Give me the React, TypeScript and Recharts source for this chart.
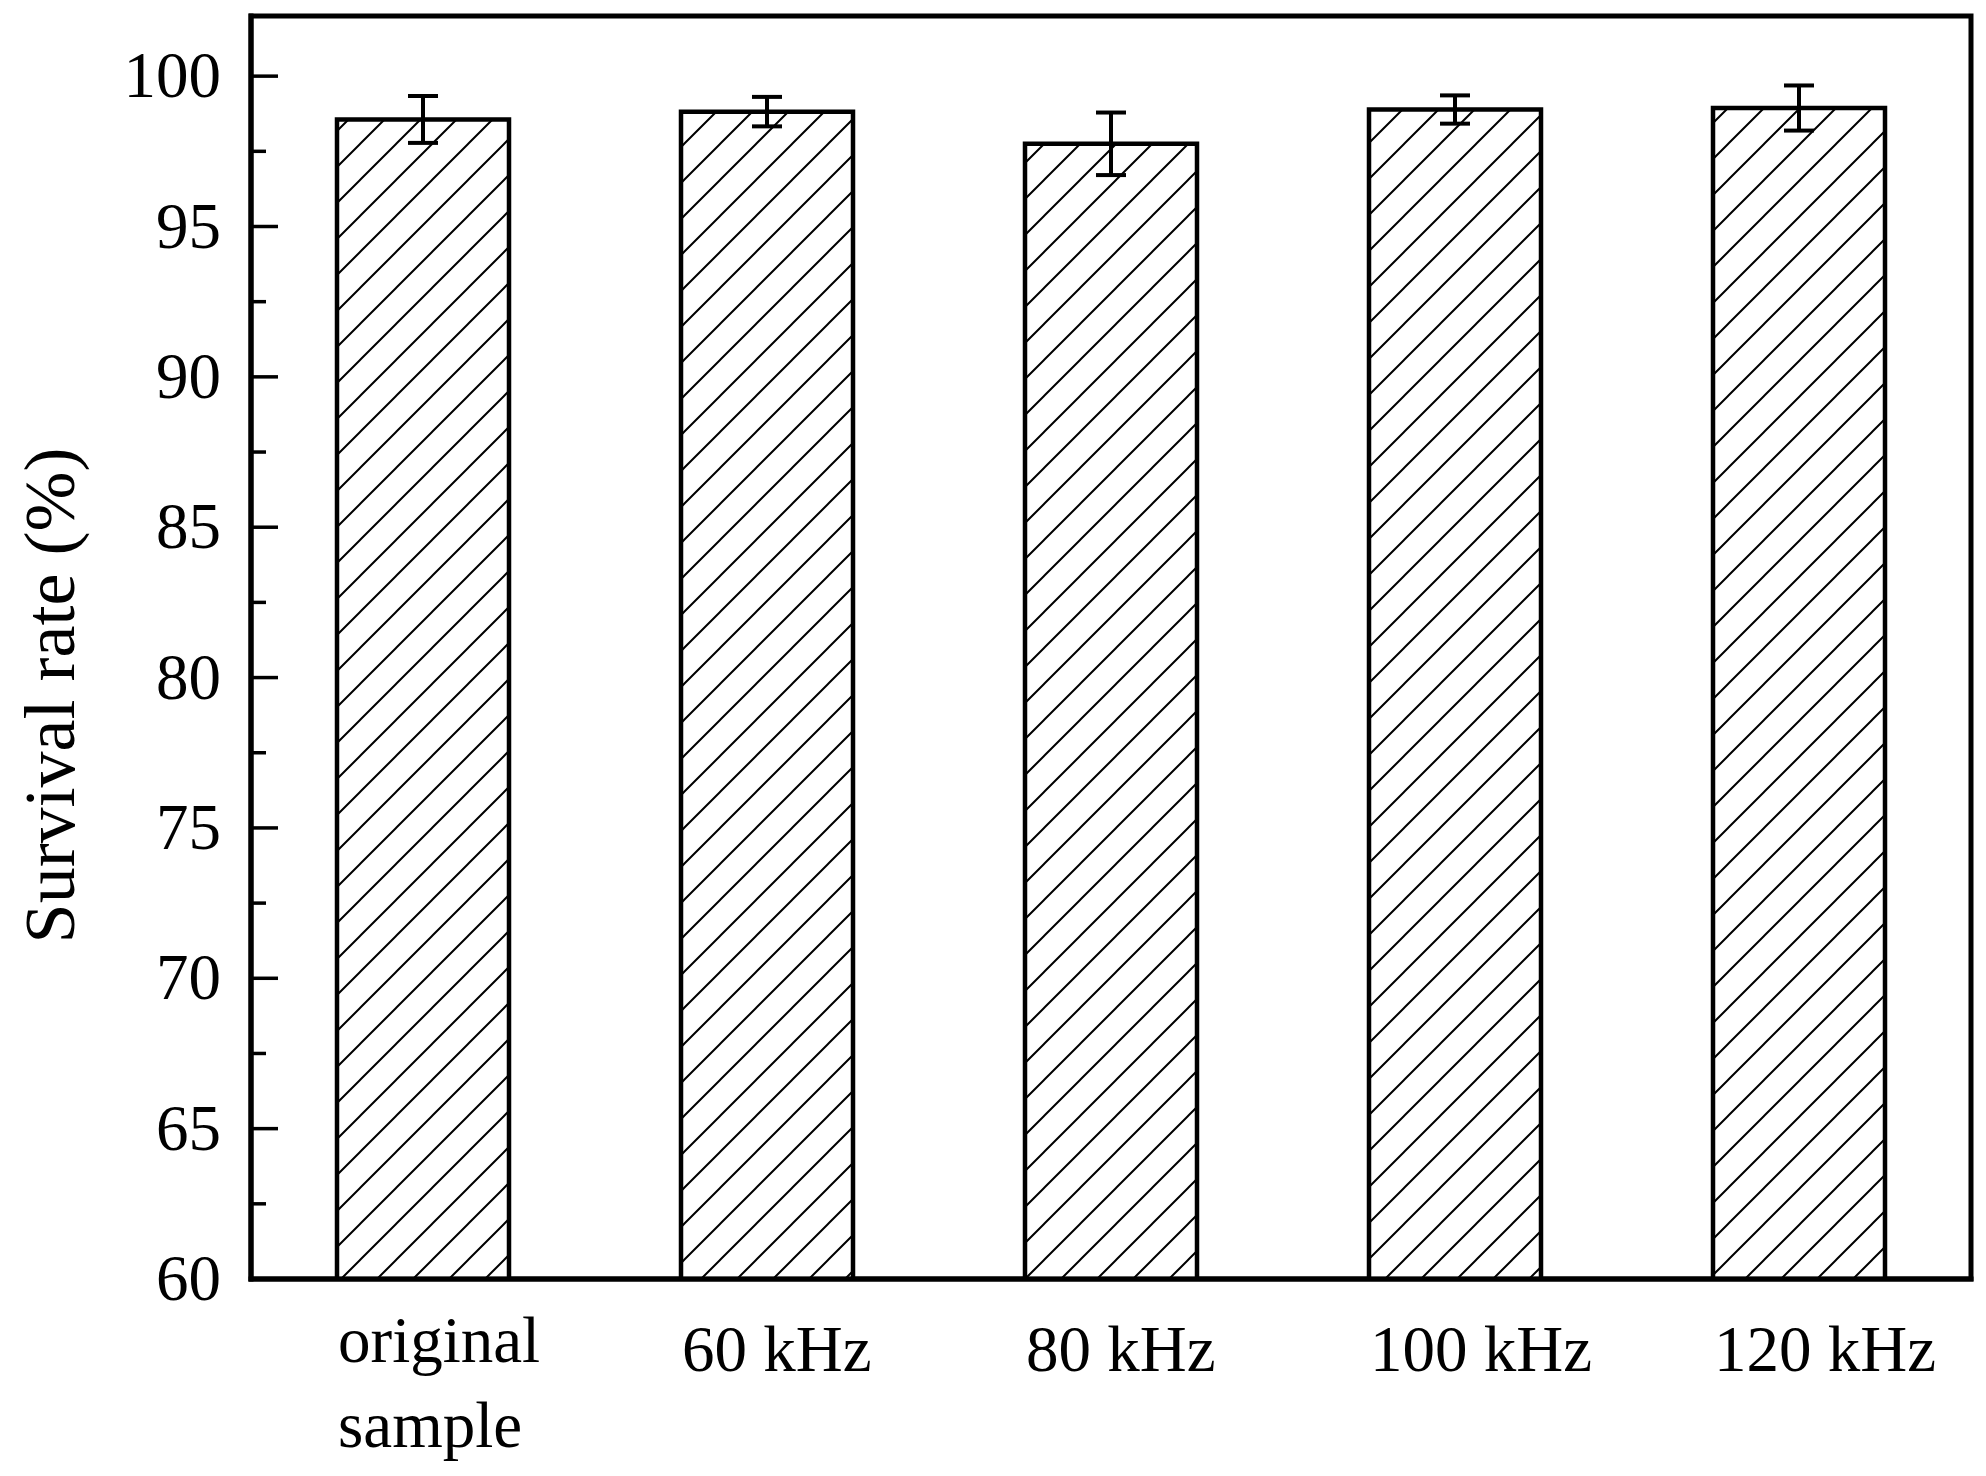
import React from "react";
import { BarChart, Bar, XAxis, YAxis, ErrorBar, ReferenceArea } from "recharts";

const categories = ["original\nsample", "60 kHz", "80 kHz", "100 kHz", "120 kHz"];
const survival = [98.56, 98.82, 97.75, 98.89, 98.94];
const errors = [0.78, 0.49, 1.04, 0.47, 0.75];
const yTicks = [60, 62.5, 65, 67.5, 70, 72.5, 75, 77.5, 80, 82.5, 85, 87.5, 90, 92.5, 95, 97.5, 100];
const yDomain = [60, 102];
const yLabel = "Survival rate (%)";

const data = categories.map((c, i) => ({ cat: c, value: survival[i], err: errors[i] }));

const FONT = "'Liberation Serif', 'Times New Roman', serif";

const YTick = (props: any) => {
  const { x, y, payload } = props;
  const v = payload.value as number;
  const major = v % 5 === 0;
  return (
    <g>
      <line x1={x} x2={x + (major ? 27 : 15)} y1={y} y2={y} stroke="#000" strokeWidth={3.5} />
      {major && (
        <text x={x - 30} y={y + 21} textAnchor="end" fontFamily={FONT} fontSize={65} fill="#000">
          {v}
        </text>
      )}
    </g>
  );
};

const XTick = (props: any) => {
  const { x, y, payload } = props;
  const lines = String(payload.value).split("\n");
  const multi = lines.length > 1;
  return (
    <g>
      {lines.map((l, i) => (
        <text
          key={i}
          x={x - 85}
          y={y + (multi ? 83 : 92) + i * 85}
          textAnchor="start"
          fontFamily={FONT}
          fontSize={65}
          fill="#000"
        >
          {l}
        </text>
      ))}
    </g>
  );
};

const YLabel = (props: any) => {
  const vb = props.viewBox || {};
  const cx = (vb.x ?? 0) + 74;
  const cy = (vb.y ?? 0) + (vb.height ?? 0) / 2 + 48;
  return (
    <text x={cx} y={cy} transform={`rotate(-90, ${cx}, ${cy})`} textAnchor="middle" fontFamily={FONT} fontSize={72} fill="#000">
      {yLabel}
    </text>
  );
};

const axisLineStyle = { stroke: "#000", strokeWidth: 5, strokeLinecap: "square" as const };

export default function App() {
  return (
    <div style={{ position: "absolute", left: 0, top: 0, width: 1986, height: 1476, background: "#fff" }}>
      <svg width={0} height={0} style={{ position: "absolute" }}>
        <defs>
          <pattern id="hatch" patternUnits="userSpaceOnUse" width={36} height={36}>
            <rect x={0} y={0} width={36} height={36} fill="#fff" />
            <path d="M-9,9 L9,-9 M0,36 L36,0 M27,45 L45,27" stroke="#000" strokeWidth={2} />
          </pattern>
        </defs>
      </svg>
      <BarChart
        width={1986}
        height={1476}
        data={data}
        margin={{ top: 16, right: 15, left: 0, bottom: 0 }}
        barCategoryGap="25%"
      >
        <XAxis
          dataKey="cat"
          height={197}
          interval={0}
          tickSize={0}
          tickMargin={0}
          tickLine={false}
          axisLine={axisLineStyle}
          tick={<XTick />}
        />
        <YAxis
          width={251}
          domain={yDomain}
          allowDataOverflow
          ticks={yTicks}
          interval={0}
          tickSize={0}
          tickMargin={0}
          tickLine={false}
          axisLine={axisLineStyle}
          tick={<YTick />}
          label={<YLabel />}
        />
        <ReferenceArea y1={yDomain[0]} y2={yDomain[1]} fill="none" fillOpacity={0} stroke="#000" strokeWidth={5} ifOverflow="visible" />
        <Bar dataKey="value" fill="url(#hatch)" stroke="#000" strokeWidth={4.5} isAnimationActive={false}>
          <ErrorBar dataKey="err" width={15} stroke="#000" strokeWidth={4} isAnimationActive={false} />
        </Bar>
      </BarChart>
    </div>
  );
}
